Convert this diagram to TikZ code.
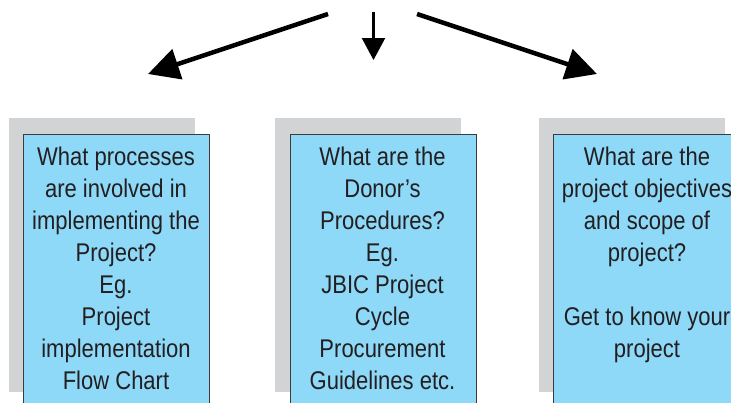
\documentclass[tikz,border=0pt]{standalone}
\usepackage{fontspec}
\setmainfont{Liberation Sans}[FakeStretch=0.86]
\usetikzlibrary{arrows.meta}
\definecolor{boxblue}{RGB}{142,216,248}
\definecolor{shadowgray}{RGB}{209,211,212}
\definecolor{edgegray}{RGB}{60,60,60}
\definecolor{txt}{RGB}{35,31,32}
\newcommand{\firststrut}{\rule{0pt}{24pt}}
\begin{document}
\begin{tikzpicture}[x=1pt,y=-1pt,
  shadowbox/.style={fill=shadowgray, draw=none, anchor=north west, inner sep=0,
    minimum width=186pt, minimum height=274pt},
  qbox/.style={fill=boxblue, draw=edgegray, line width=1.2pt, anchor=north west, inner sep=0,
    minimum width=186pt, minimum height=300pt},
  qtext/.style={text=txt, align=center, inner sep=0, anchor=north,
    font=\fontsize{25.6}{32}\selectfont},
  bigarrow/.style={line width=4.5pt, -{Triangle[length=31pt,width=31pt]}},
  smallarrow/.style={line width=2.3pt, -{Triangle[length=22pt,width=23pt]}}]
\useasboundingbox (0,0) rectangle (731,402);
\clip (0,0) rectangle (731,402);
\fill[white] (0,0) rectangle (731,402);
% arrows
\coordinate (la) at (328,14);
\coordinate (lb) at (148,74);
\coordinate (ca) at (373.5,12);
\coordinate (cb) at (373.5,60);
\coordinate (ra) at (417,14);
\coordinate (rb) at (597,74);
\draw[bigarrow] (la) -- (lb);
\draw[smallarrow] (ca) -- (cb);
\draw[bigarrow] (ra) -- (rb);
% shadows
\node[shadowbox] (s1) at (9,118) {};
\node[shadowbox] (s2) at (275,118) {};
\node[shadowbox] (s3) at (539,118) {};
% boxes
\node[qbox] (b1) at (23,134) {};
\node[qbox] (b2) at (289.5,134) {};
\node[qbox] (b3) at (553,134) {};
% texts
\node[qtext] (t1) at (116,141) {\firststrut What processes\\are involved in\\implementing the\\Project?\\Eg.\\Project\\implementation\\Flow Chart};
\node[qtext] (t2) at (382.5,141) {\firststrut What are the\\Donor’s\\Procedures?\\Eg.\\JBIC Project\\Cycle\\Procurement\\Guidelines etc.};
\node[qtext] (t3) at (647,141) {\firststrut What are the\\project objectives\\and scope of\\project?\\\mbox{}\\Get to know your\\project};
\end{tikzpicture}
\end{document}
